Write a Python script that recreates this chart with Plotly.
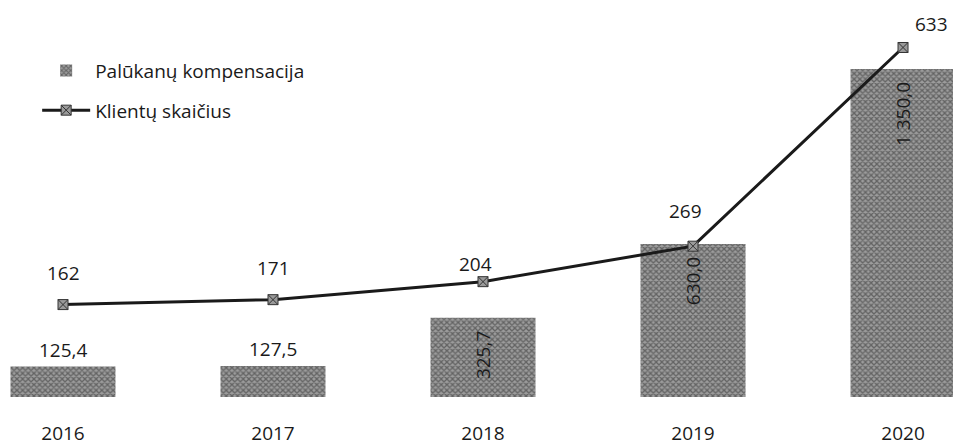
import plotly.graph_objects as go

years = ["2016", "2017", "2018", "2019", "2020"]
kompensacija = [125.4, 127.5, 325.7, 630.0, 1350.0]
klientai = [162, 171, 204, 269, 633]

FONT = "Open Sans"
INK = "#1a1a1a"


def lt(v):
    # lithuanian format: space for thousands, comma for decimals
    return f"{v:,.1f}".replace(",", " ").replace(".", ",")


fig = go.Figure()

# bars: small ones get label above, tall ones a rotated label inside
inside = [v > 200 for v in kompensacija]
fig.add_trace(go.Bar(
    x=years, y=kompensacija,
    name="Palūkanų kompensacija",
    legendgroup="a",
    width=0.5,
    marker=dict(
        color="#8c8c8c",
        line=dict(width=0),
        pattern=dict(shape="x", bgcolor="#9c9c9c", fgcolor="#2a2a2a",
                     size=4, solidity=0.55),
    ),
    text=[lt(v) + "\u00a0\u00a0" if i else "" for v, i in zip(kompensacija, inside)],
    textposition="inside",
    insidetextanchor="end",
    textangle=-90,
    textfont=dict(family=FONT, size=19, color=INK),
    hoverinfo="skip",
))

fig.add_trace(go.Scatter(
    x=years, y=klientai,
    name="Klientų skaičius",
    legendgroup="b",
    yaxis="y2",
    mode="lines+markers",
    line=dict(color=INK, width=3),
    marker=dict(symbol="square-x", size=10, color="#9a9a9a",
                line=dict(color="#333333", width=1)),
    hoverinfo="skip",
))

# labels above the small bars (x given as category index)
for k, (v, i) in enumerate(zip(kompensacija, inside)):
    if not i:
        fig.add_annotation(x=k, y=v, xref="x", yref="y", text=lt(v),
                           showarrow=False, yanchor="bottom", yshift=2,
                           font=dict(family=FONT, size=19, color=INK))

# line labels
line_shift = [(0, 32), (0, 32), (-8, 18), (-8, 35), (28, 23)]
for k, (v, (dx, dy)) in enumerate(zip(klientai, line_shift)):
    fig.add_annotation(x=k, y=v, xref="x", yref="y2", text=str(v), showarrow=False,
                       xshift=dx, yshift=dy,
                       font=dict(family=FONT, size=19, color=INK))

fig.update_layout(
    width=953, height=448,
    margin=dict(l=0, r=0, t=0, b=51),
    paper_bgcolor="white", plot_bgcolor="white",
    font=dict(family=FONT, size=19, color=INK),
    barmode="overlay",
    showlegend=True,
    legend=dict(
        x=0.039, y=0.87, xanchor="left", yanchor="top",
        traceorder="grouped", tracegroupgap=12,
        font=dict(family=FONT, size=19, color=INK),
        bgcolor="rgba(0,0,0,0)",
        itemwidth=48,
    ),
    xaxis=dict(
        type="category", range=[-0.3, 4.238],
        showgrid=False, zeroline=False, showline=False,
        ticks="", ticklabelstandoff=23, automargin=False,
        tickfont=dict(family=FONT, size=19, color=INK),
    ),
    yaxis=dict(range=[0, 1634], visible=False, automargin=False),
    yaxis2=dict(range=[-7.3, 720], overlaying="y", visible=False, automargin=False),
)

fig.write_html("out.html", config={"displayModeBar": False},
               post_script="document.body.style.margin='0';")
